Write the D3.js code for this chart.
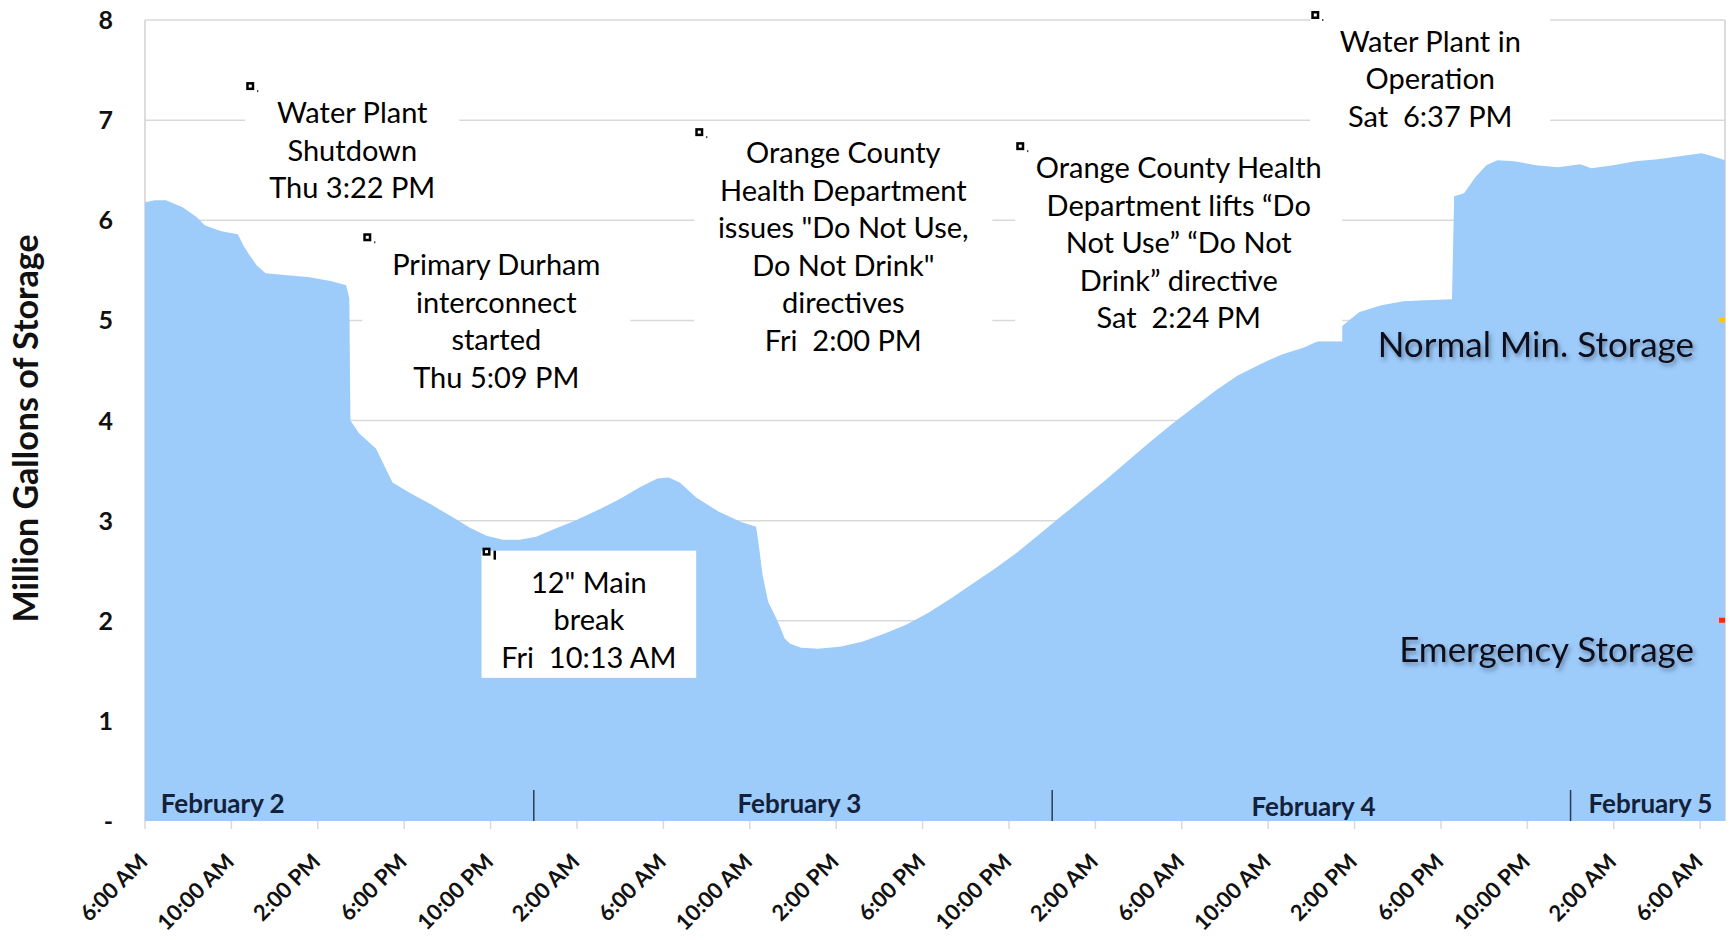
<!DOCTYPE html>
<html>
<head>
<meta charset="utf-8">
<script src="https://cdn.jsdelivr.net/npm/d3@7"></script>
<style>
  body { margin: 0; background: #fff; }
  svg text { font-family: Lato, "Open Sans", sans-serif; }
</style>
</head>
<body>
<div id="chart"></div>
<script>
// storage readings, hours after Thu Feb 2 2017 6:00 AM
const hours = [0, 0.46, 0.97, 1.74, 2.40, 2.76, 3.53, 4.30, 4.55, 4.81, 5.17, 5.58, 6.60, 7.62, 8.64, 9.31, 9.46, 9.51,
  9.92, 10.69, 11.46, 12.23, 13.25, 14.27, 15.04, 15.81, 16.57, 17.34, 18.11, 18.87, 19.90, 20.92, 21.94, 22.97, 23.73,
  24.25, 24.76, 25.52, 26.55, 27.57, 28.29, 28.39, 28.59, 28.85, 29.10, 29.36, 29.62, 29.87, 30.38, 31.15, 32.17, 33.20,
  34.22, 35.24, 36.27, 37.29, 38.31, 39.34, 40.36, 41.38, 42.40, 43.43, 44.45, 45.47, 46.50, 47.52, 48.54, 49.57, 50.59,
  51.61, 52.63, 53.66, 54.68, 55.40, 56.21, 57.24, 58.26, 59.28, 60.51, 60.61, 61.07, 61.59, 62.10, 62.61, 63.38, 64.40,
  65.42, 66.45, 66.96, 67.98, 69.00, 70.03, 71.05, 72.07, 72.58, 73.15];
const storage = [6.18, 6.20, 6.20, 6.13, 6.03, 5.95, 5.89, 5.86, 5.75, 5.66, 5.55, 5.47, 5.45, 5.43, 5.39, 5.35, 5.22, 4.00,
  3.87, 3.72, 3.38, 3.28, 3.16, 3.03, 2.93, 2.85, 2.81, 2.81, 2.84, 2.91, 3.00, 3.10, 3.21, 3.34, 3.42,
  3.43, 3.38, 3.23, 3.09, 2.99, 2.94, 2.80, 2.46, 2.19, 2.08, 1.96, 1.82, 1.77, 1.73, 1.72, 1.74, 1.79,
  1.87, 1.96, 2.08, 2.22, 2.37, 2.52, 2.68, 2.86, 3.04, 3.22, 3.40, 3.59, 3.78, 3.96, 4.13, 4.30, 4.45,
  4.56, 4.66, 4.73, 4.83, 4.94, 5.08, 5.15, 5.19, 5.20, 5.21, 6.24, 6.27, 6.43, 6.55, 6.60, 6.59, 6.55,
  6.53, 6.56, 6.52, 6.55, 6.59, 6.61, 6.64, 6.67, 6.64, 6.60];

const yTicks = [1, 2, 3, 4, 5, 6, 7, 8];
const tickHours = d3.range(0, 73, 4);
const tickLabels = ["6:00 AM", "10:00 AM", "2:00 PM", "6:00 PM", "10:00 PM", "2:00 AM",
  "6:00 AM", "10:00 AM", "2:00 PM", "6:00 PM", "10:00 PM", "2:00 AM",
  "6:00 AM", "10:00 AM", "2:00 PM", "6:00 PM", "10:00 PM", "2:00 AM", "6:00 AM"];
const days = ["February 2", "February 3", "February 4", "February 5"];
const dayLabelHours = [3.6, 30.3, 54.1, 69.7];
const midnightHours = [18, 42, 66];

const notes = [
  ["Water Plant", "Shutdown", "Thu 3:22 PM"],
  ["Primary Durham", "interconnect", "started", "Thu 5:09 PM"],
  ["12\" Main", "break", "Fri  10:13 AM"],
  ["Orange County", "Health Department", "issues \"Do Not Use,", "Do Not Drink\"", "directives", "Fri  2:00 PM"],
  ["Orange County Health", "Department lifts \u201cDo", "Not Use\u201d \u201cDo Not", "Drink\u201d directive", "Sat  2:24 PM"],
  ["Water Plant in", "Operation", "Sat  6:37 PM"]
];
// storage levels flagged on the right edge
const levelNames = ["Normal Min. Storage", "Emergency Storage"];
const levelValues = [5, 2];

const start = new Date(2017, 1, 2, 6, 0);
const end = new Date(2017, 1, 5, 7, 9);
const at = h => new Date(start.getTime() + h * 36e5);

const width = 1732, height = 940;
const x = d3.scaleTime().domain([start, end]).range([145, 1725]);
const y = d3.scaleLinear().domain([0, 8]).range([821, 20]);

const svg = d3.select("#chart").append("svg")
  .attr("width", width)
  .attr("height", height);

const defs = svg.append("defs");
const shadow = defs.append("filter").attr("id", "shadow")
  .attr("x", "-10%").attr("y", "-30%").attr("width", "120%").attr("height", "160%");
shadow.append("feDropShadow")
  .attr("dx", 2).attr("dy", 3).attr("stdDeviation", 2.2)
  .attr("flood-color", "#3a4a60").attr("flood-opacity", 0.55);

// gridlines and plot border
svg.append("g")
  .selectAll("line")
  .data(yTicks)
  .join("line")
  .attr("x1", x.range()[0]).attr("x2", x.range()[1])
  .attr("y1", d => y(d)).attr("y2", d => y(d))
  .attr("stroke", "#d9d9d9").attr("stroke-width", 1.5);

svg.append("line")
  .attr("x1", x.range()[0]).attr("x2", x.range()[0])
  .attr("y1", y(8)).attr("y2", y(0))
  .attr("stroke", "#d0d0d0").attr("stroke-width", 1.5);
svg.append("line")
  .attr("x1", x.range()[1]).attr("x2", x.range()[1])
  .attr("y1", y(8)).attr("y2", y(0))
  .attr("stroke", "#d0d0d0").attr("stroke-width", 1.5);

// the storage area
const series = hours.map((h, i) => ({ t: at(h), v: storage[i] }));
const area = d3.area()
  .x(d => x(d.t))
  .y0(y(0))
  .y1(d => y(d.v));

svg.append("path")
  .datum(series)
  .attr("fill", "#9dcbfa")
  .attr("d", area);

// y axis
const yAxis = svg.append("g").attr("font-weight", "bold").attr("font-size", 25).attr("fill", "#111");
yAxis.selectAll("text")
  .data([0, ...yTicks])
  .join("text")
  .attr("x", 113)
  .attr("y", d => y(d))
  .attr("dy", "0.36em")
  .attr("text-anchor", "end")
  .text(d => d === 0 ? "-" : d);

svg.append("text")
  .attr("transform", `translate(38,${(y(0) + y(8)) / 2 + 8}) rotate(-90)`)
  .attr("text-anchor", "middle")
  .attr("font-weight", "bold")
  .attr("font-size", 34)
  .attr("fill", "#111")
  .text("Million Gallons of Storage");

// x axis ticks and labels
const xAxis = svg.append("g");
xAxis.selectAll("line")
  .data(tickHours)
  .join("line")
  .attr("x1", d => x(at(d))).attr("x2", d => x(at(d)))
  .attr("y1", y(0)).attr("y2", y(0) + 8)
  .attr("stroke", "#d9d9d9").attr("stroke-width", 1.5);
xAxis.selectAll("text")
  .data(tickHours)
  .join("text")
  .attr("transform", d => `translate(${x(at(d)) + 4},${y(0) + 42}) rotate(-45)`)
  .attr("text-anchor", "end")
  .attr("font-weight", "bold")
  .attr("font-size", 22)
  .attr("fill", "#111")
  .text((d, i) => tickLabels[i]);

// day bands along the bottom of the plot
svg.append("g")
  .selectAll("line")
  .data(midnightHours)
  .join("line")
  .attr("x1", d => x(at(d))).attr("x2", d => x(at(d)))
  .attr("y1", y(0) - 31).attr("y2", y(0))
  .attr("stroke", "#2c3a55").attr("stroke-width", 1.5);
svg.append("g")
  .selectAll("text")
  .data(days)
  .join("text")
  .attr("x", (d, i) => x(at(dayLabelHours[i])))
  .attr("y", (d, i) => y(0) - (i === 2 ? 5 : 8))
  .attr("text-anchor", "middle")
  .attr("font-weight", "bold")
  .attr("font-size", 26)
  .attr("fill", "#13213b")
  .text(d => d);

// annotation boxes: [start hour, end hour, top value, bottom value, first baseline offset]
const boxes = [
  [4.64, 14.55, 7.35, 6.05, 38],
  [10.06, 22.47, 5.84, 4.15, 39],
  [15.58, 25.52, 2.70, 1.43, 42],
  [25.43, 39.23, 6.89, 4.46, 32],
  [40.29, 55.43, 6.75, 4.79, 33],
  [53.95, 65.06, 8.06, 6.80, 38]
];
const lineGap = 37.5;

const note = svg.append("g")
  .selectAll("g")
  .data(notes)
  .join("g");

note.append("rect")
  .attr("x", (d, i) => x(at(boxes[i][0])))
  .attr("y", (d, i) => y(boxes[i][2]))
  .attr("width", (d, i) => x(at(boxes[i][1])) - x(at(boxes[i][0])))
  .attr("height", (d, i) => y(boxes[i][3]) - y(boxes[i][2]))
  .attr("fill", "#fff");

note.append("text")
  .attr("font-size", 29)
  .attr("fill", "#000")
  .attr("text-anchor", "middle")
  .style("white-space", "pre")
  .each(function (d, i) {
    const b = boxes[i];
    const cx = (x(at(b[0])) + x(at(b[1]))) / 2;
    const top = y(b[2]) + b[4];
    d3.select(this).selectAll("tspan")
      .data(d)
      .join("tspan")
      .attr("x", cx)
      .attr("y", (s, j) => top + j * lineGap)
      .text(s => s);
  });

// small anchor handles at the top-left corner of each box
note.append("rect")
  .attr("x", (d, i) => x(at(boxes[i][0])) + 1)
  .attr("y", (d, i) => y(boxes[i][2]) - 3)
  .attr("width", 8).attr("height", 8)
  .attr("fill", "#000");
note.append("rect")
  .attr("x", (d, i) => x(at(boxes[i][0])) + 3.5)
  .attr("y", (d, i) => y(boxes[i][2]) - 0.5)
  .attr("width", 3).attr("height", 3)
  .attr("fill", "#fff");
note.append("rect")
  .attr("x", (d, i) => x(at(boxes[i][0])) + 12)
  .attr("y", (d, i) => y(boxes[i][2]) + (i === 2 ? 0 : 5))
  .attr("width", (d, i) => i === 2 ? 2.5 : 1)
  .attr("height", (d, i) => i === 2 ? 9 : 2)
  .attr("fill", "#000");

// level flags at the right edge and their names
svg.append("g")
  .selectAll("rect")
  .data(levelValues)
  .join("rect")
  .attr("x", x.range()[1] - 6)
  .attr("y", d => y(d) - 3)
  .attr("width", 6).attr("height", 5)
  .attr("fill", (d, i) => i === 0 ? "#ffc800" : "#ff2a00");

svg.append("g")
  .selectAll("text")
  .data(levelNames)
  .join("text")
  .attr("x", 1694)
  .attr("y", (d, i) => y(levelValues[i]) + (i === 0 ? 37 : 41))
  .attr("text-anchor", "end")
  .attr("font-size", 35)
  .attr("fill", "#0a0f1a")
  .attr("filter", "url(#shadow)")
  .text(d => d);
</script>
</body>
</html>
